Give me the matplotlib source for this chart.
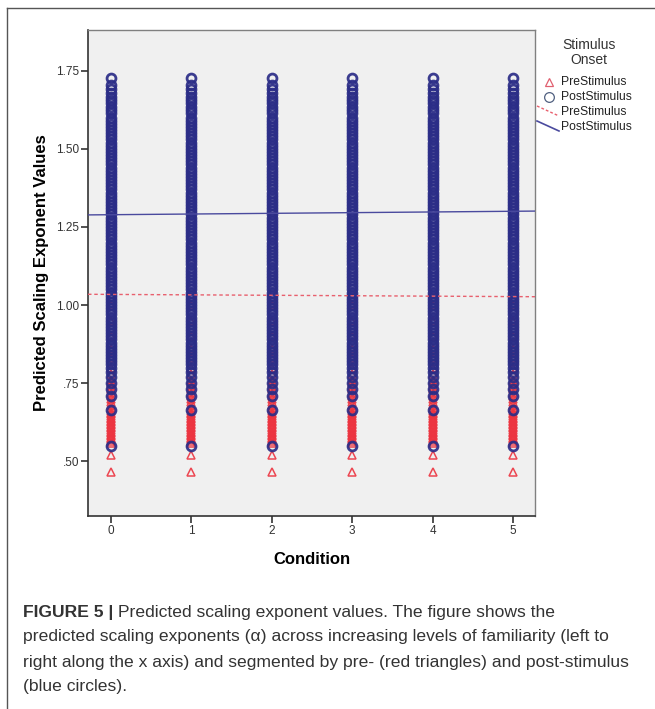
import numpy as np
import matplotlib.pyplot as plt
from matplotlib.lines import Line2D

plt.rcParams['font.family'] = ['Liberation Sans', 'DejaVu Sans']

# Data
conditions = [0, 1, 2, 3, 4, 5]

# post-stimulus predicted exponents (same spread in every condition)
post_values = [
    1.725, 1.705, 1.69, 1.678, 1.667, 1.656, 1.645, 1.635, 1.625, 1.615,
    1.60, 1.59, 1.58, 1.57, 1.56, 1.55, 1.54, 1.53, 1.52, 1.51,
    1.50, 1.49, 1.48, 1.47, 1.46, 1.45, 1.44, 1.43, 1.42, 1.41,
    1.40, 1.39, 1.38, 1.37, 1.36, 1.35, 1.34, 1.33, 1.32, 1.31,
    1.30, 1.29, 1.28, 1.27, 1.26, 1.25, 1.24, 1.23, 1.22, 1.21,
    1.20, 1.19, 1.18, 1.17, 1.16, 1.15, 1.14, 1.13, 1.12, 1.11,
    1.10, 1.09, 1.08, 1.07, 1.06, 1.05, 1.04, 1.03, 1.02, 1.01,
    1.00, 0.99, 0.98, 0.97, 0.96, 0.95, 0.94, 0.93, 0.92, 0.91,
    0.90, 0.89, 0.88, 0.87, 0.86, 0.85, 0.84, 0.83, 0.82, 0.81,
    0.80, 0.785, 0.77, 0.75, 0.73, 0.71, 0.665, 0.55,
]

# pre-stimulus predicted exponents
pre_values = [
    0.465, 0.52, 0.56, 0.565, 0.57, 0.575, 0.58, 0.585, 0.59, 0.595,
    0.60, 0.605, 0.61, 0.615, 0.62, 0.625, 0.63, 0.635, 0.64, 0.645,
    0.65, 0.655, 0.66, 0.67, 0.68, 0.69, 0.70, 0.71, 0.72, 0.73,
    0.74, 0.75, 0.76, 0.78, 0.80, 0.83, 0.86, 0.90, 0.95, 1.00,
]

# fitted lines: value at condition 0 and condition 5
post_fit = [1.289, 1.300]
pre_fit = [1.034, 1.027]

yticks = [0.50, 0.75, 1.00, 1.25, 1.50, 1.75]
ytick_labels = ['.50', '.75', '1.00', '1.25', '1.50', '1.75']

navy = '#2b2d87'
red = '#ec3440'

fig = plt.figure(figsize=(6.55, 7.09), dpi=100)
ax = fig.add_axes([0.1344, 0.2722, 0.6824, 0.6855])
ax.set_facecolor('#f0f0f0')

# triangles first, circles drawn over them
for c in conditions:
    xs = [c] * len(pre_values)
    ax.plot(xs, pre_values, ls='none', marker='^', ms=5.2, mfc='none',
            mec=red, mew=1.1, alpha=0.9, zorder=3)
for c in conditions:
    xs = [c] * len(post_values)
    ax.plot(xs, post_values, ls='none', marker='o', ms=6.4, mfc='none',
            mec=navy, mew=2.0, alpha=0.92, zorder=4)

ax.axline((conditions[0], post_fit[0]), (conditions[-1], post_fit[1]),
          color='#4a4a9e', lw=1.0, zorder=5)
ax.axline((conditions[0], pre_fit[0]), (conditions[-1], pre_fit[1]),
          color='#e8606e', lw=1.0, ls=(0, (2.5, 2)), zorder=5)

ax.set_xlim(-0.286, 5.274)
ax.set_ylim(0.325, 1.880)
ax.set_xticks(conditions)
ax.set_yticks(yticks)
ax.set_yticklabels(ytick_labels)
ax.tick_params(direction='out', length=5, width=1.2, labelsize=8.5,
               colors='#333333', pad=1.5)
for side in ['left', 'bottom']:
    ax.spines[side].set_color('#333333')
    ax.spines[side].set_linewidth(1.2)
for side in ['top', 'right']:
    ax.spines[side].set_color('#808080')
    ax.spines[side].set_linewidth(1.0)

ax.set_xlabel('Condition', fontsize=12, fontweight='bold', labelpad=11)
ax.set_ylabel('Predicted Scaling Exponent Values', fontsize=12,
              fontweight='bold', labelpad=5)

# legend, drawn by hand in pixel coordinates
W, H = 655, 709
def fx(px):
    return px / W
def fy(py):
    return 1 - py / H

fig.text(fx(589), fy(45), 'Stimulus', ha='center', va='center', fontsize=10, color='#333333')
fig.text(fx(589), fy(60), 'Onset', ha='center', va='center', fontsize=10, color='#333333')
fig.add_artist(Line2D([fx(549)], [fy(82)], marker='^', ms=6, mfc='none',
                      mec='#e06070', mew=0.9, transform=fig.transFigure))
fig.add_artist(Line2D([fx(549)], [fy(97)], marker='o', ms=7, mfc='none',
                      mec='#506080', mew=0.9, transform=fig.transFigure))
fig.add_artist(Line2D([fx(537), fx(559)], [fy(106), fy(116)], color='#e8606e',
                      lw=1.0, ls=(0, (2, 1.5)), transform=fig.transFigure))
fig.add_artist(Line2D([fx(537), fx(559)], [fy(121), fy(131)], color='#4a4a9e',
                      lw=1.2, transform=fig.transFigure))
legend_labels = ['PreStimulus', 'PostStimulus', 'PreStimulus', 'PostStimulus']
for i, lab in enumerate(legend_labels):
    fig.text(fx(561), fy(82 + 15 * i), lab, ha='left', va='center',
             fontsize=8.7, color='#222222')

# outer figure frame
fig.add_artist(Line2D([fx(7), fx(655)], [fy(8), fy(8)], color='#555555',
                      lw=1.0, transform=fig.transFigure))
fig.add_artist(Line2D([fx(7), fx(7)], [fy(8), fy(709)], color='#555555',
                      lw=1.0, transform=fig.transFigure))

# caption
cap_size = 12.6
t0 = fig.text(fx(23), fy(612), 'FIGURE 5 |', ha='left', va='center',
              fontsize=cap_size, fontweight='bold', color='#333333')
renderer = fig.canvas.get_renderer()
bb = t0.get_window_extent(renderer)
fig.text((bb.x1 + 5) / W, fy(612), 'Predicted scaling exponent values. The figure shows the',
         ha='left', va='center', fontsize=cap_size, color='#333333')
caption_rest = [
    'predicted scaling exponents (\u03b1) across increasing levels of familiarity (left to',
    'right along the x axis) and segmented by pre- (red triangles) and post-stimulus',
    '(blue circles).',
]
for i, line in enumerate(caption_rest):
    fig.text(fx(23), fy(637 + 25 * i), line, ha='left', va='center',
             fontsize=cap_size, color='#333333')

fig.savefig('out.png', dpi=100)
